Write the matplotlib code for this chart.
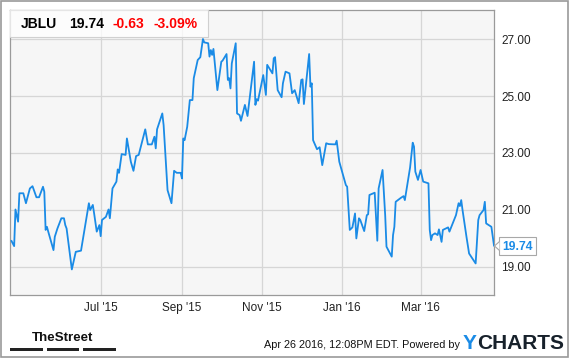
import matplotlib
matplotlib.use("Agg")
import matplotlib.pyplot as plt
from matplotlib.patches import Rectangle, Polygon
from matplotlib.lines import Line2D
from matplotlib.text import OffsetFrom
import datetime as dt

# ---------------- data ----------------
dates = [
    "2015-04-24", "2015-04-26", "2015-04-27", "2015-04-29", "2015-04-30", "2015-05-03",
    "2015-05-05", "2015-05-08", "2015-05-10", "2015-05-13", "2015-05-15", "2015-05-18",
    "2015-05-19", "2015-05-20", "2015-05-21", "2015-05-22", "2015-05-26", "2015-05-27",
    "2015-05-29", "2015-06-01", "2015-06-03", "2015-06-04", "2015-06-05", "2015-06-09",
    "2015-06-12", "2015-06-16", "2015-06-22", "2015-06-23", "2015-06-25", "2015-06-26",
    "2015-06-28", "2015-06-30", "2015-07-01", "2015-07-02", "2015-07-05", "2015-07-07",
    "2015-07-08", "2015-07-10", "2015-07-13", "2015-07-14", "2015-07-15", "2015-07-17",
    "2015-07-20", "2015-07-21", "2015-07-24", "2015-07-26", "2015-07-28", "2015-07-30",
    "2015-08-04", "2015-08-06", "2015-08-09", "2015-08-11", "2015-08-12", "2015-08-13",
    "2015-08-17", "2015-08-18", "2015-08-21", "2015-08-24", "2015-08-25", "2015-08-26",
    "2015-08-28", "2015-08-31", "2015-09-01", "2015-09-02", "2015-09-03", "2015-09-05",
    "2015-09-07", "2015-09-09", "2015-09-10", "2015-09-13", "2015-09-15", "2015-09-17",
    "2015-09-18", "2015-09-21", "2015-09-22", "2015-09-23", "2015-09-24", "2015-09-25",
    "2015-09-28", "2015-10-01", "2015-10-02", "2015-10-05", "2015-10-06", "2015-10-07",
    "2015-10-08", "2015-10-09", "2015-10-12", "2015-10-13", "2015-10-15", "2015-10-16",
    "2015-10-19", "2015-10-21", "2015-10-26", "2015-10-27", "2015-10-28", "2015-10-29",
    "2015-11-02", "2015-11-04", "2015-11-05", "2015-11-09", "2015-11-10", "2015-11-11",
    "2015-11-13", "2015-11-16", "2015-11-17", "2015-11-19", "2015-11-22", "2015-11-24",
    "2015-11-26", "2015-11-29", "2015-12-01", "2015-12-02", "2015-12-03", "2015-12-07",
    "2015-12-08", "2015-12-09", "2015-12-10", "2015-12-12", "2015-12-13", "2015-12-15",
    "2015-12-17", "2015-12-20", "2015-12-22", "2015-12-27", "2015-12-28", "2015-12-30",
    "2016-01-04", "2016-01-05", "2016-01-07", "2016-01-09", "2016-01-11", "2016-01-12",
    "2016-01-14", "2016-01-15", "2016-01-18", "2016-01-20", "2016-01-21", "2016-01-22",
    "2016-01-26", "2016-01-28", "2016-01-29", "2016-02-01", "2016-02-02", "2016-02-03",
    "2016-02-04", "2016-02-08", "2016-02-09", "2016-02-10", "2016-02-11", "2016-02-15",
    "2016-02-17", "2016-02-18", "2016-02-22", "2016-02-24", "2016-02-25", "2016-02-26",
    "2016-02-28", "2016-03-01", "2016-03-03", "2016-03-07", "2016-03-08", "2016-03-09",
    "2016-03-10", "2016-03-12", "2016-03-14", "2016-03-15", "2016-03-17", "2016-03-18",
    "2016-03-22", "2016-03-23", "2016-03-26", "2016-03-28", "2016-03-30", "2016-03-31",
    "2016-04-01", "2016-04-02", "2016-04-05", "2016-04-07", "2016-04-12", "2016-04-14",
    "2016-04-15", "2016-04-18", "2016-04-19", "2016-04-20", "2016-04-24", "2016-04-26",
]
prices = [
    19.90, 19.72, 21.01, 20.58, 21.58, 21.58,
    21.23, 21.75, 21.83, 21.44, 21.44, 21.81,
    21.63, 20.29, 20.40, 20.23, 19.58, 20.05,
    20.34, 20.70, 20.70, 20.46, 20.34, 18.90,
    19.52, 19.56, 21.23, 20.99, 21.17, 20.87,
    20.23, 20.46, 20.07, 20.64, 20.75, 21.01,
    20.70, 21.75, 21.99, 22.42, 22.30, 22.96,
    22.93, 23.51, 22.69, 22.37, 22.89, 22.93,
    23.83, 23.30, 23.30, 23.57, 23.16, 23.83,
    24.39, 23.98, 21.69, 21.23, 21.81, 22.37,
    22.30, 22.30, 22.10, 23.51, 23.45, 23.92,
    24.86, 24.86, 25.63, 26.27, 26.37, 27.01,
    26.89, 26.86, 26.39, 26.62, 26.45, 26.66,
    25.21, 26.21, 26.25, 26.48, 25.57, 25.63,
    25.27, 26.15, 26.86, 24.39, 24.33, 24.13,
    24.69, 24.30, 26.21, 24.69, 24.89, 24.84,
    25.74, 25.04, 26.10, 25.80, 26.33, 26.37,
    25.21, 24.96, 25.45, 25.86, 25.80, 25.10,
    25.21, 24.75, 25.57, 25.59, 24.72, 26.48,
    25.33, 25.45, 23.45, 23.24, 23.13, 23.20,
    22.57, 23.34, 23.31, 23.30, 23.43, 22.69,
    21.87, 21.81, 20.29, 20.38, 20.87, 19.99,
    20.70, 20.64, 20.25, 20.81, 20.84, 21.52,
    21.60, 19.91, 21.75, 22.40, 21.58, 20.81,
    19.70, 19.35, 20.11, 20.40, 21.28, 21.42,
    21.48, 21.34, 22.49, 23.36, 23.22, 22.34,
    22.05, 22.40, 21.99, 21.93, 20.29, 19.93,
    20.11, 20.17, 20.11, 20.31, 19.87, 20.29,
    20.38, 20.23, 20.58, 20.81, 21.23, 21.13,
    21.34, 20.99, 20.05, 19.46, 19.11, 20.64,
    20.81, 20.99, 21.28, 20.52, 20.40, 19.74,
]
tick_dates = ["2015-07-01", "2015-09-01", "2015-11-01", "2016-01-01", "2016-03-01"]
tick_labels = ["Jul '15", "Sep '15", "Nov '15", "Jan '16", "Mar '16"]
y_ticks = [19, 21, 23, 25, 27]
ticker = "JBLU"
last_price = "19.74"
change = "-0.63"
change_pct = "-3.09%"
timestamp = "Apr 26 2016, 12:08PM EDT. Powered by"

# ---------------- layout helpers ----------------
W, H = 575, 358
def fx(x):
    return x / W
def fy(y):
    return 1 - y / H

plt.rcParams["font.family"] = ["Liberation Sans", "DejaVu Sans"]

fig = plt.figure(figsize=(W / 100, H / 100), dpi=100)
fig.patch.set_facecolor("white")

L, R, T, B = 10, 494, 10, 295
ax = fig.add_axes([fx(L), fy(B), fx(R) - fx(L), fy(T) - fy(B)])
ax.set_facecolor("#f6f6f6")

xd = [dt.datetime.strptime(d, "%Y-%m-%d") for d in dates]
ax.plot(xd, prices, color="#1a8be6", lw=1.3, solid_joinstyle="round", zorder=3)

ax.set_xlim(dt.datetime(2015, 4, 22, 20), dt.datetime(2016, 4, 26, 0))
ax.set_ylim(18.0, 28.03)

ax.set_xticks([dt.datetime.strptime(d, "%Y-%m-%d") for d in tick_dates])
ax.set_xticklabels(tick_labels)
ax.set_yticks(y_ticks)
ax.set_yticklabels([f"{v:.2f}" for v in y_ticks])
ax.yaxis.tick_right()
ax.tick_params(axis="both", length=0, labelsize=8.5, colors="#222222")
ax.tick_params(axis="y", pad=5)
ax.tick_params(axis="x", pad=5)
ax.grid(True, color="#d6d6d6", lw=0.9)
ax.set_axisbelow(True)
for s in ax.spines.values():
    s.set_color("#9a9a9a")
    s.set_linewidth(0.9)

# header box
fig.patches.append(Rectangle((fx(L), fy(37)), fx(208) - fx(L), fy(T) - fy(37),
                             transform=fig.transFigure, facecolor="white", alpha=0.75,
                             edgecolor="none", zorder=5))
fig.lines.append(Line2D([fx(L), fx(208), fx(208)], [fy(37), fy(37), fy(T)],
                        transform=fig.transFigure, color="#d0d0d0", lw=0.8, zorder=6))
hy = fy(24)
fig.text(fx(20.5), hy, ticker, fontsize=10, fontweight="bold", color="black", va="center", zorder=7)
fig.text(fx(69), hy, last_price, fontsize=10, fontweight="bold", color="black", va="center", zorder=7)
fig.text(fx(112.7), hy, change, fontsize=10, fontweight="bold", color="#ff0000", va="center", zorder=7)
fig.text(fx(153.7), hy, change_pct, fontsize=10, fontweight="bold", color="#ff0000", va="center", zorder=7)

# last value box
fig.patches.append(Rectangle((fx(499), fy(255)), fx(536) - fx(499), fy(237) - fy(255),
                             transform=fig.transFigure, facecolor="white",
                             edgecolor="#a8a8a8", lw=0.8, zorder=5))
fig.patches.append(Polygon([(fx(499.5), fy(241.5)), (fx(494.5), fy(246)), (fx(499.5), fy(250.5))],
                           closed=False, transform=fig.transFigure, facecolor="white",
                           edgecolor="#a8a8a8", lw=0.8, zorder=6))
fig.text(fx(517.5), fy(246.5), last_price, fontsize=8.7, fontweight="bold", color="#1a8be6",
         ha="center", va="center", zorder=7)

# footer: TheStreet logo
fig.text(fx(63), fy(341.3), "TheStreet", fontsize=9.6, fontweight="bold",
         family=["Liberation Sans Narrow", "Liberation Sans"], color="#111111",
         ha="center", va="baseline")
for x0, x1 in [(10, 42.7), (47, 79.3), (83, 116)]:
    fig.patches.append(Rectangle((fx(x0), fy(350.5)), fx(x1) - fx(x0), fy(348) - fy(350.5),
                                 transform=fig.transFigure, facecolor="#222222", edgecolor="none"))

# footer: timestamp and YCharts logo
fig.text(fx(459.5), fy(347.6), timestamp, fontsize=7.8, color="#111111", ha="right", va="baseline")
yt = fig.text(fx(463), fy(349), "Y", fontsize=15, fontweight="bold", color="#1a8be6", va="baseline")
fig.add_artist(plt.Annotation("CHARTS", xy=(0, 0), xycoords=fig.transFigure,
                              xytext=(0, 0), textcoords=OffsetFrom(yt, (1.0, 0.0)),
                              fontsize=15, fontweight="bold", color="#17212b",
                              va="bottom", ha="left"))

# outer frame
fig.patches.append(Rectangle((fx(0.5), fy(357)), fx(568) - fx(0.5), fy(0.5) - fy(357),
                             transform=fig.transFigure, facecolor="none",
                             edgecolor="#9a9a9a", lw=1.2, zorder=10))

fig.savefig("out.png", dpi=100, facecolor="white")
